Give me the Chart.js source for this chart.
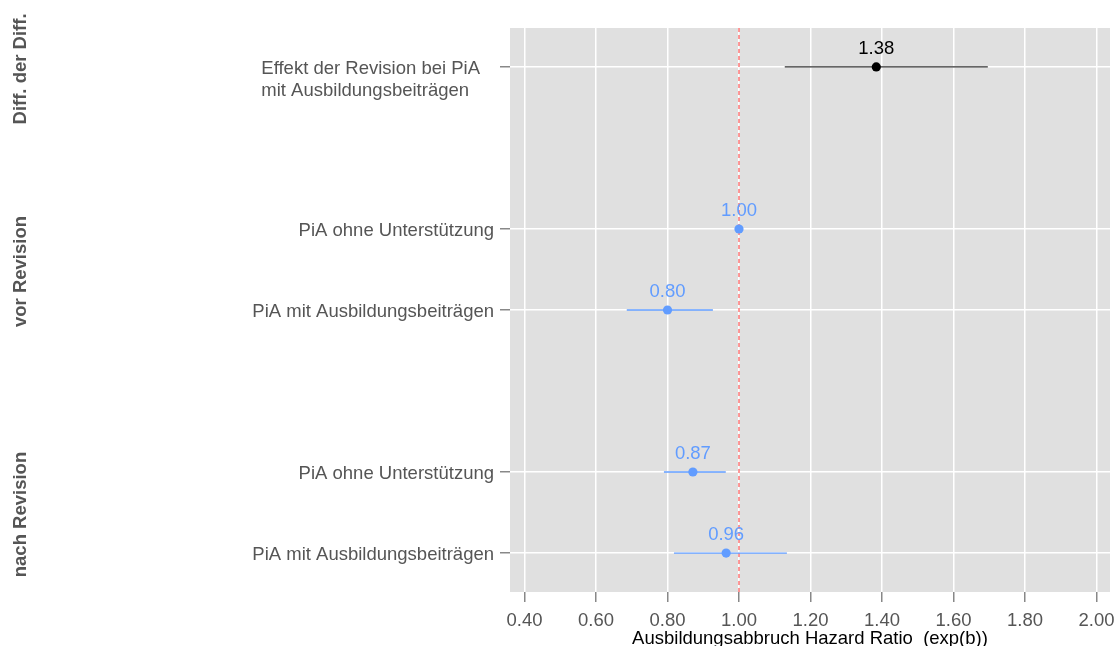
<!DOCTYPE html>
<html><head><meta charset="utf-8">
<script src="https://cdn.jsdelivr.net/npm/chart.js@4.4.0/dist/chart.umd.min.js"></script>
<style>html,body{margin:0;padding:0;background:#fff;overflow:hidden}canvas{display:block}</style>
</head><body>
<canvas id="c" width="1115" height="646"></canvas>
<script>
// ---- data ----
const rowLabels = [["Effekt der Revision bei PiA","mit Ausbildungsbeiträgen"],["PiA ohne Unterstützung"],["PiA mit Ausbildungsbeiträgen"],["PiA ohne Unterstützung"],["PiA mit Ausbildungsbeiträgen"]];
const rowPositions = [0,2,3,5,6];
const estimates = [1.384,1.00,0.80,0.871,0.964];
const ciLower = [1.128,null,0.686,0.790,0.818];
const ciUpper = [1.696,null,0.927,0.963,1.134];
const rowSeries = ["diff","model","model","model","model"];
const groupNames = ["Diff. der Diff.","vor Revision","nach Revision"];
const groupRows = [[0],[1,2],[3,4]];
const xTickValues = [0.4,0.6,0.8,1.0,1.2,1.4,1.6,1.8,2.0];
const referenceValue = 1.0;
const xTitle = "Ausbildungsabbruch Hazard Ratio  (exp(b))";

// ---- styles ----
const FONT = "'Liberation Sans', Arial, sans-serif";
const FS = 18.5;
const seriesPointColor = {diff:"#000000", model:"#619CFF"};
const seriesLineColor = {diff:"#333333", model:"#619CFF"};
const seriesTextColor = {diff:"#000000", model:"#619CFF"};
const panelBg = "#E0E0E0";
const axisTextColor = "#555555";

const datasets = [];
["diff","model"].forEach(s => {
  const pts = [];
  estimates.forEach((e,i) => { if (rowSeries[i]===s) pts.push({x:e, y:rowPositions[i], row:i}); });
  datasets.push({type:'scatter', data:pts, backgroundColor:seriesPointColor[s], borderWidth:0,
    pointRadius:4.6, pointHoverRadius:4.6, order:1, series:s});
});
estimates.forEach((e,i) => {
  if (ciLower[i]==null) return;
  datasets.push({type:'scatter', showLine:true, data:[{x:ciLower[i],y:rowPositions[i]},{x:ciUpper[i],y:rowPositions[i]}],
    borderColor:seriesLineColor[rowSeries[i]], borderWidth:1.3, pointRadius:0, order:2});
});

const decor = {
  id:'decor',
  beforeDraw(chart){
    const {ctx, chartArea:a} = chart;
    ctx.save(); ctx.fillStyle = panelBg; ctx.fillRect(a.left, a.top, a.right-a.left, a.bottom-a.top); ctx.restore();
  },
  beforeDatasetsDraw(chart){
    const {ctx, chartArea:a, scales:{x}} = chart;
    const px = x.getPixelForValue(referenceValue);
    ctx.save(); ctx.strokeStyle = '#FF6262'; ctx.lineWidth = 1.3; ctx.setLineDash([4,3]);
    ctx.beginPath(); ctx.moveTo(px, a.top); ctx.lineTo(px, a.bottom); ctx.stroke(); ctx.restore();
  },
  afterDatasetsDraw(chart){
    const {ctx, scales:{x,y}} = chart;
    ctx.save();
    ctx.font = FS + "px " + FONT; ctx.textAlign = 'center'; ctx.textBaseline = 'middle';
    estimates.forEach((e,i) => {
      ctx.fillStyle = seriesTextColor[rowSeries[i]];
      ctx.fillText(e.toFixed(2), x.getPixelForValue(e), y.getPixelForValue(rowPositions[i]) - 18);
    });
    ctx.restore();
  },
  afterDraw(chart){
    const {ctx, scales:{y}, chartArea:a} = chart;
    ctx.save();
    ctx.font = FS + "px " + FONT; ctx.fillStyle = axisTextColor; ctx.textBaseline = 'middle';
    const right = a.left - 16;
    rowLabels.forEach((lines,i) => {
      const py = y.getPixelForValue(rowPositions[i]) + 2;
      if (lines.length > 1) {
        const w = Math.max(...lines.map(l => ctx.measureText(l).width));
        ctx.textAlign = 'left';
        lines.forEach((l,j) => ctx.fillText(l, right - 14 - w, py + j*21.5));
      } else {
        ctx.textAlign = 'right';
        ctx.fillText(lines[0], right, py);
      }
    });
    ctx.font = "bold " + FS + "px " + FONT; ctx.textAlign = 'center';
    groupNames.forEach((g,k) => {
      const ys = groupRows[k].map(i => y.getPixelForValue(rowPositions[i]));
      const cy = (Math.min(...ys) + Math.max(...ys))/2 + 2;
      ctx.save(); ctx.translate(21, cy); ctx.rotate(-Math.PI/2); ctx.fillText(g, 0, 0); ctx.restore();
    });
    ctx.restore();
  }
};

new Chart(document.getElementById('c'), {
  type:'scatter',
  data:{datasets},
  options:{
    responsive:false, animation:false, devicePixelRatio:1,
    layout:{padding:{top:28, right:5, left:0, bottom:0}},
    plugins:{legend:{display:false}, tooltip:{enabled:false}},
    scales:{
      x:{type:'linear', min:0.3594, max:2.0378,
        afterBuildTicks:s => { s.ticks = xTickValues.map(v => ({value:v})); },
        afterFit:s => { s.height = 54; s.paddingLeft = 0; s.paddingRight = 0; },
        ticks:{callback:v => Number(v).toFixed(2), color:axisTextColor, font:{size:FS, family:FONT}, padding:8, maxRotation:0, autoSkip:false},
        grid:{color:'#FFFFFF', lineWidth:1.5, tickColor:'#888888', tickLength:10, tickWidth:1.5},
        border:{display:false},
        title:{display:true, text:xTitle, color:'#000000', font:{size:FS, family:FONT}, padding:{top:0, bottom:-4}}
      },
      y:{type:'linear', reverse:true, min:-0.481, max:6.481,
        afterBuildTicks:s => { s.ticks = rowPositions.map(v => ({value:v})); },
        afterFit:s => { s.width = 510; s.paddingTop = 0; s.paddingBottom = 0; },
        ticks:{display:false},
        grid:{color:'#FFFFFF', lineWidth:1.5, tickColor:'#888888', tickLength:10, tickWidth:1.5},
        border:{display:false}
      }
    }
  },
  plugins:[decor]
});
</script>
</body></html>
